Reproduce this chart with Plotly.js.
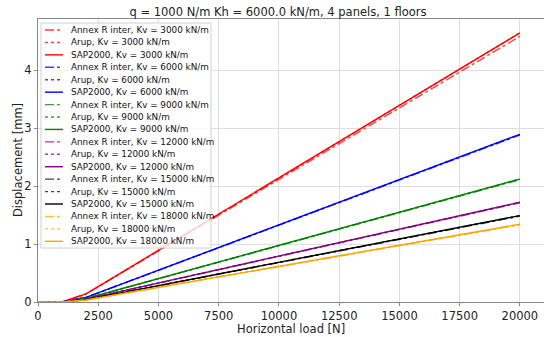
<!DOCTYPE html>
<html>
<head>
<meta charset="utf-8">
<script src="https://cdn.plot.ly/plotly-3.0.1.min.js"></script>
<style>html,body{margin:0;padding:0;background:#fff}#chart{width:544px;height:337px}</style>
</head>
<body>
<div id="chart"></div>
<script>
// ---- data ----
const load = [0, 1000, 2000, 20000];
const kvValues = [3000, 6000, 9000, 12000, 15000, 18000];
const kvColors = ['red', 'blue', 'green', 'purple', 'black', 'orange'];
const methods = ['Annex R inter', 'Arup', 'SAP2000'];

const annex_3000  = [0, 0, 0.14, 4.58];
const arup_3000   = [0, 0, 0.14, 4.64];
const sap_3000    = [0, 0, 0.14, 4.64];
const annex_6000  = [0, 0, 0.08, 2.88];
const arup_6000   = [0, 0, 0.08, 2.89];
const sap_6000    = [0, 0, 0.08, 2.89];
const annex_9000  = [0, 0, 0.06, 2.11];
const arup_9000   = [0, 0, 0.06, 2.12];
const sap_9000    = [0, 0, 0.06, 2.12];
const annex_12000 = [0, 0, 0.05, 1.71];
const arup_12000  = [0, 0, 0.05, 1.72];
const sap_12000   = [0, 0, 0.05, 1.72];
const annex_15000 = [0, 0, 0.04, 1.48];
const arup_15000  = [0, 0, 0.04, 1.49];
const sap_15000   = [0, 0, 0.04, 1.49];
const annex_18000 = [0, 0, 0.035, 1.33];
const arup_18000  = [0, 0, 0.035, 1.34];
const sap_18000   = [0, 0, 0.035, 1.34];

const seriesByKv = [
  [annex_3000, arup_3000, sap_3000],
  [annex_6000, arup_6000, sap_6000],
  [annex_9000, arup_9000, sap_9000],
  [annex_12000, arup_12000, sap_12000],
  [annex_15000, arup_15000, sap_15000],
  [annex_18000, arup_18000, sap_18000]
];

const xTicks = [0, 2500, 5000, 7500, 10000, 12500, 15000, 17500, 20000];
const yTicks = [0, 1, 2, 3, 4];
const xTitle = 'Horizontal load [N]';
const yTitle = 'Displacement [mm]';
const chartTitle = 'q = 1000 N/m Kh = 6000.0 kN/m, 4 panels, 1 floors';

// ---- styles ----
const dashes = ['dashdot', 'dot', 'solid'];
const opac = [0.75, 0.75, 1];
const FONT = 'DejaVu Sans, Liberation Sans, sans-serif';

// plot-area geometry in px (for legend / title placement)
const L = 38, T = 19, W = 506, H = 283;
const px2x = p => (p - L) / W;
const py2y = p => (T + H - p) / H;

const traces = [];
const labels = [];
kvValues.forEach((kv, i) => {
  methods.forEach((m, j) => {
    const name = m + ', Kv = ' + kv + ' kN/m';
    labels.push({name, color: kvColors[i], dash: dashes[j], op: opac[j]});
    traces.push({
      x: load, y: seriesByKv[i][j], type: 'scatter', mode: 'lines', name,
      line: {color: kvColors[i], dash: dashes[j], width: 1.4},
      opacity: opac[j], showlegend: false, hoverinfo: 'skip'
    });
  });
});

// manual legend (matplotlib-like compact)
const shapes = [{
  type: 'rect', xref: 'paper', yref: 'paper', layer: 'above',
  x0: px2x(41), x1: px2x(211), y0: py2y(248), y1: py2y(23),
  fillcolor: 'rgba(255,255,255,0.8)', line: {color: '#d0d0d0', width: 1}
}];
const annotations = [];
const row0 = 30, rowStep = 12.43;
labels.forEach((lb, k) => {
  const yy = row0 + k * rowStep;
  shapes.push({
    type: 'line', xref: 'paper', yref: 'paper', layer: 'above',
    x0: px2x(45), x1: px2x(63), y0: py2y(yy), y1: py2y(yy),
    opacity: lb.op, line: {color: lb.color, dash: lb.dash, width: 1.4}
  });
  annotations.push({
    xref: 'paper', yref: 'paper', x: px2x(69), y: py2y(yy),
    xanchor: 'left', yanchor: 'middle', showarrow: false, text: lb.name,
    font: {family: FONT, size: 8.8, color: '#111'}
  });
});

// axis titles as annotations for exact placement
annotations.push({
  xref: 'paper', yref: 'paper', x: px2x(291), y: py2y(329),
  xanchor: 'center', yanchor: 'middle', showarrow: false, text: xTitle,
  font: {family: FONT, size: 11.5, color: '#222'}
});
annotations.push({
  xref: 'paper', yref: 'paper', x: px2x(18), y: py2y(160),
  xanchor: 'center', yanchor: 'middle', showarrow: false, text: yTitle,
  textangle: -90, font: {family: FONT, size: 11.5, color: '#222'}
});

const axisCommon = {
  showgrid: true, gridcolor: '#dedede', gridwidth: 1,
  zeroline: false, showline: true, linecolor: '#888', linewidth: 1, mirror: true,
  ticks: 'outside', ticklen: 3, tickcolor: '#888',
  tickfont: {family: FONT, size: 11.5, color: '#222'}
};

const layout = {
  width: 544, height: 337,
  margin: {l: L, r: 0, t: T, b: 337 - T - H},
  paper_bgcolor: '#fff', plot_bgcolor: '#fff',
  font: {family: FONT, color: '#222'},
  title: {text: chartTitle,
          x: 278 / 544, xref: 'container', xanchor: 'center',
          y: 1 - 12 / 337, yref: 'container', yanchor: 'middle',
          font: {family: FONT, size: 11.5, color: '#222'}},
  xaxis: Object.assign({}, axisCommon, {
    range: [0, 21000], tickvals: xTicks, ticktext: xTicks.map(String)
  }),
  yaxis: Object.assign({}, axisCommon, {
    range: [0, 4.88], tickvals: yTicks, ticktext: yTicks.map(String)
  }),
  shapes, annotations, showlegend: false
};

Plotly.newPlot('chart', traces, layout, {staticPlot: true, displayModeBar: false});
</script>
</body>
</html>
